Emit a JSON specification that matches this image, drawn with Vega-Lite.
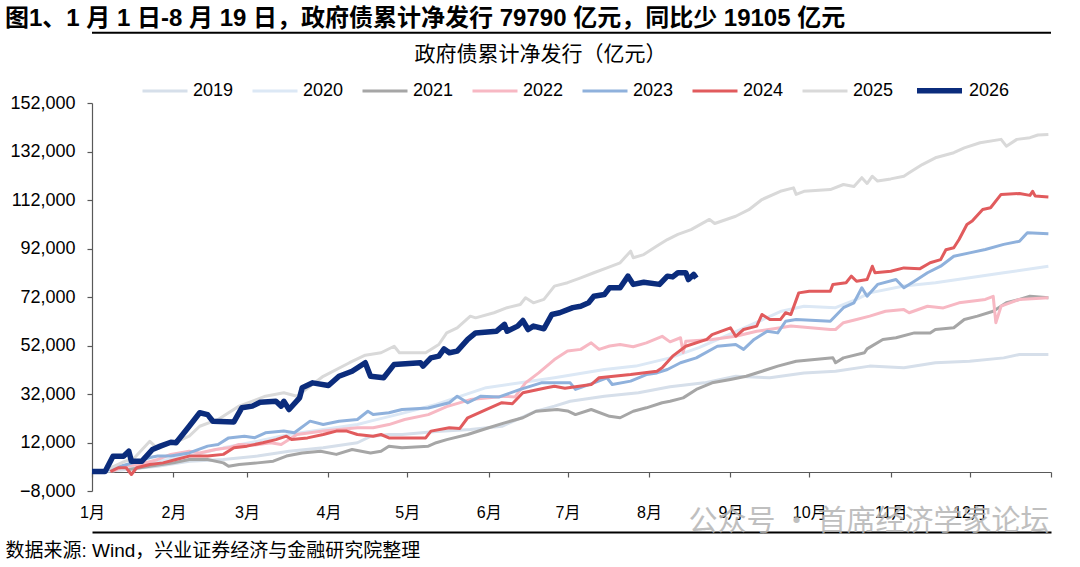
{
  "$schema": "https://vega.github.io/schema/vega-lite/v6.json",
  "width": 959,
  "height": 388,
  "autosize": {"type": "none"},
  "padding": {"left": 92, "top": 103, "right": 29, "bottom": 76},
  "background": "white",
  "config": {
    "font": "Liberation Sans, Noto Sans CJK SC",
    "view": {"stroke": null},
    "axis": {"grid": false, "labelColor": "#000", "domainColor": "#595959", "tickColor": "#595959", "domainWidth": 1.2, "tickWidth": 1.2},
    "legend": {
      "orient": "none", "legendX": 49, "legendY": -38, "direction": "horizontal",
      "symbolType": "stroke", "symbolSize": 2025, "symbolStrokeWidth": 4,
      "labelFontSize": 18, "labelColor": "#000", "labelOffset": 4,
      "columnPadding": 12, "padding": 0
    }
  },
  "title": {
    "text": "图1、1 月 1 日-8 月 19 日，政府债累计净发行 79790 亿元，同比少 19105 亿元",
    "anchor": "start", "frame": "group", "dx": -87, "dy": -1, "offset": 0,
    "fontSize": 24, "fontWeight": "bold", "color": "#000",
    "font": "Liberation Sans, Noto Sans CJK SC"
  },
  "resolve": {"axis": {"x": "independent"}},
  "data": {"values": [
    {"year":"2019","date":"2026-01-06","value":0},{"year":"2019","date":"2026-01-13","value":800},{"year":"2019","date":"2026-01-26","value":2200},{"year":"2019","date":"2026-02-07","value":4300},{"year":"2019","date":"2026-02-20","value":5000},{"year":"2019","date":"2026-03-05","value":6400},{"year":"2019","date":"2026-03-17","value":8400},{"year":"2019","date":"2026-03-30","value":9800},{"year":"2019","date":"2026-04-12","value":11900},{"year":"2019","date":"2026-04-17","value":14500},{"year":"2019","date":"2026-04-24","value":15300},{"year":"2019","date":"2026-04-29","value":15300},{"year":"2019","date":"2026-05-12","value":16500},{"year":"2019","date":"2026-05-25","value":17400},{"year":"2019","date":"2026-06-06","value":18700},{"year":"2019","date":"2026-06-19","value":24900},{"year":"2019","date":"2026-06-26","value":27000},{"year":"2019","date":"2026-07-02","value":29000},{"year":"2019","date":"2026-07-15","value":31100},{"year":"2019","date":"2026-07-28","value":32500},{"year":"2019","date":"2026-08-09","value":35000},{"year":"2019","date":"2026-08-22","value":36600},{"year":"2019","date":"2026-09-03","value":39300},{"year":"2019","date":"2026-09-16","value":38700},{"year":"2019","date":"2026-09-29","value":40700},{"year":"2019","date":"2026-10-11","value":41400},{"year":"2019","date":"2026-10-24","value":43500},{"year":"2019","date":"2026-11-06","value":42800},{"year":"2019","date":"2026-11-18","value":44900},{"year":"2019","date":"2026-12-01","value":45500},{"year":"2019","date":"2026-12-14","value":46900},{"year":"2019","date":"2026-12-20","value":48300},{"year":"2019","date":"2026-12-31","value":48300},
    {"year":"2020","date":"2026-01-05","value":0},{"year":"2020","date":"2026-01-13","value":1500},{"year":"2020","date":"2026-01-26","value":4300},{"year":"2020","date":"2026-02-07","value":6400},{"year":"2020","date":"2026-02-20","value":9800},{"year":"2020","date":"2026-03-05","value":12500},{"year":"2020","date":"2026-03-17","value":15300},{"year":"2020","date":"2026-03-30","value":17400},{"year":"2020","date":"2026-04-12","value":19400},{"year":"2020","date":"2026-04-17","value":20800},{"year":"2020","date":"2026-04-29","value":24000},{"year":"2020","date":"2026-05-12","value":27700},{"year":"2020","date":"2026-05-31","value":34600},{"year":"2020","date":"2026-06-13","value":36600},{"year":"2020","date":"2026-06-26","value":38700},{"year":"2020","date":"2026-07-15","value":42100},{"year":"2020","date":"2026-07-27","value":43500},{"year":"2020","date":"2026-08-09","value":46900},{"year":"2020","date":"2026-08-20","value":51100},{"year":"2020","date":"2026-09-05","value":58600},{"year":"2020","date":"2026-09-20","value":66000},{"year":"2020","date":"2026-09-29","value":68200},{"year":"2020","date":"2026-10-11","value":67600},{"year":"2020","date":"2026-10-19","value":71000},{"year":"2020","date":"2026-10-24","value":73700},{"year":"2020","date":"2026-11-06","value":76500},{"year":"2020","date":"2026-11-18","value":77900},{"year":"2020","date":"2026-12-01","value":79900},{"year":"2020","date":"2026-12-14","value":82000},{"year":"2020","date":"2026-12-31","value":84700},
    {"year":"2021","date":"2026-01-15","value":900},{"year":"2021","date":"2026-01-23","value":2200},{"year":"2021","date":"2026-02-01","value":3600},{"year":"2021","date":"2026-02-07","value":5000},{"year":"2021","date":"2026-02-14","value":5000},{"year":"2021","date":"2026-02-20","value":3600},{"year":"2021","date":"2026-02-22","value":2200},{"year":"2021","date":"2026-02-26","value":2900},{"year":"2021","date":"2026-03-05","value":3600},{"year":"2021","date":"2026-03-11","value":4300},{"year":"2021","date":"2026-03-16","value":6400},{"year":"2021","date":"2026-03-22","value":7700},{"year":"2021","date":"2026-03-29","value":8400},{"year":"2021","date":"2026-04-04","value":7100},{"year":"2021","date":"2026-04-10","value":9100},{"year":"2021","date":"2026-04-17","value":7700},{"year":"2021","date":"2026-04-21","value":8400},{"year":"2021","date":"2026-04-24","value":10500},{"year":"2021","date":"2026-04-29","value":9800},{"year":"2021","date":"2026-05-09","value":10500},{"year":"2021","date":"2026-05-12","value":11900},{"year":"2021","date":"2026-05-16","value":13200},{"year":"2021","date":"2026-05-24","value":15300},{"year":"2021","date":"2026-06-01","value":18100},{"year":"2021","date":"2026-06-07","value":20100},{"year":"2021","date":"2026-06-14","value":22200},{"year":"2021","date":"2026-06-19","value":24900},{"year":"2021","date":"2026-06-27","value":25600},{"year":"2021","date":"2026-07-01","value":25000},{"year":"2021","date":"2026-07-04","value":23500},{"year":"2021","date":"2026-07-10","value":25600},{"year":"2021","date":"2026-07-17","value":22800},{"year":"2021","date":"2026-07-21","value":22200},{"year":"2021","date":"2026-07-26","value":24900},{"year":"2021","date":"2026-07-31","value":26300},{"year":"2021","date":"2026-08-06","value":28400},{"year":"2021","date":"2026-08-09","value":29000},{"year":"2021","date":"2026-08-14","value":30400},{"year":"2021","date":"2026-08-19","value":33900},{"year":"2021","date":"2026-08-25","value":36600},{"year":"2021","date":"2026-09-01","value":38000},{"year":"2021","date":"2026-09-07","value":39300},{"year":"2021","date":"2026-09-13","value":41400},{"year":"2021","date":"2026-09-19","value":43500},{"year":"2021","date":"2026-09-26","value":45500},{"year":"2021","date":"2026-10-03","value":46200},{"year":"2021","date":"2026-10-10","value":46900},{"year":"2021","date":"2026-10-11","value":44900},{"year":"2021","date":"2026-10-14","value":46900},{"year":"2021","date":"2026-10-22","value":49000},{"year":"2021","date":"2026-10-23","value":50600},{"year":"2021","date":"2026-10-29","value":54500},{"year":"2021","date":"2026-11-03","value":55200},{"year":"2021","date":"2026-11-10","value":57200},{"year":"2021","date":"2026-11-16","value":57200},{"year":"2021","date":"2026-11-18","value":58600},{"year":"2021","date":"2026-11-25","value":59300},{"year":"2021","date":"2026-11-29","value":62700},{"year":"2021","date":"2026-12-04","value":64100},{"year":"2021","date":"2026-12-10","value":66100},{"year":"2021","date":"2026-12-15","value":69600},{"year":"2021","date":"2026-12-20","value":71000},{"year":"2021","date":"2026-12-24","value":72300},{"year":"2021","date":"2026-12-31","value":71700},
    {"year":"2022","date":"2026-01-09","value":200},{"year":"2022","date":"2026-01-13","value":2200},{"year":"2022","date":"2026-01-19","value":2900},{"year":"2022","date":"2026-01-26","value":5000},{"year":"2022","date":"2026-01-31","value":7100},{"year":"2022","date":"2026-02-07","value":8400},{"year":"2022","date":"2026-02-11","value":7700},{"year":"2022","date":"2026-02-17","value":9100},{"year":"2022","date":"2026-02-22","value":9800},{"year":"2022","date":"2026-02-26","value":11200},{"year":"2022","date":"2026-03-04","value":11000},{"year":"2022","date":"2026-03-10","value":11900},{"year":"2022","date":"2026-03-14","value":11200},{"year":"2022","date":"2026-03-20","value":15300},{"year":"2022","date":"2026-03-25","value":16000},{"year":"2022","date":"2026-03-30","value":16700},{"year":"2022","date":"2026-04-05","value":17400},{"year":"2022","date":"2026-04-12","value":18100},{"year":"2022","date":"2026-04-18","value":18100},{"year":"2022","date":"2026-04-24","value":19400},{"year":"2022","date":"2026-04-30","value":21500},{"year":"2022","date":"2026-05-09","value":23500},{"year":"2022","date":"2026-05-16","value":26800},{"year":"2022","date":"2026-05-25","value":29700},{"year":"2022","date":"2026-06-01","value":30500},{"year":"2022","date":"2026-06-07","value":31100},{"year":"2022","date":"2026-06-11","value":30800},{"year":"2022","date":"2026-06-15","value":36600},{"year":"2022","date":"2026-06-20","value":40700},{"year":"2022","date":"2026-06-26","value":46200},{"year":"2022","date":"2026-07-01","value":49700},{"year":"2022","date":"2026-07-06","value":50400},{"year":"2022","date":"2026-07-10","value":53100},{"year":"2022","date":"2026-07-13","value":50400},{"year":"2022","date":"2026-07-17","value":51800},{"year":"2022","date":"2026-07-21","value":52400},{"year":"2022","date":"2026-07-26","value":51500},{"year":"2022","date":"2026-07-31","value":53100},{"year":"2022","date":"2026-08-06","value":55800},{"year":"2022","date":"2026-08-09","value":53500},{"year":"2022","date":"2026-08-13","value":55200},{"year":"2022","date":"2026-08-14","value":49100},{"year":"2022","date":"2026-08-15","value":53800},{"year":"2022","date":"2026-08-25","value":54500},{"year":"2022","date":"2026-09-03","value":55800},{"year":"2022","date":"2026-09-11","value":57900},{"year":"2022","date":"2026-09-20","value":59300},{"year":"2022","date":"2026-09-24","value":60000},{"year":"2022","date":"2026-10-09","value":58600},{"year":"2022","date":"2026-10-11","value":58600},{"year":"2022","date":"2026-10-14","value":61400},{"year":"2022","date":"2026-10-19","value":62700},{"year":"2022","date":"2026-10-24","value":64100},{"year":"2022","date":"2026-10-30","value":66100},{"year":"2022","date":"2026-11-06","value":66800},{"year":"2022","date":"2026-11-08","value":65500},{"year":"2022","date":"2026-11-15","value":68200},{"year":"2022","date":"2026-11-21","value":67500},{"year":"2022","date":"2026-11-27","value":69600},{"year":"2022","date":"2026-12-07","value":71000},{"year":"2022","date":"2026-12-10","value":72300},{"year":"2022","date":"2026-12-11","value":61400},{"year":"2022","date":"2026-12-13","value":68200},{"year":"2022","date":"2026-12-20","value":71000},{"year":"2022","date":"2026-12-31","value":71700},
    {"year":"2023","date":"2026-01-04","value":0},{"year":"2023","date":"2026-01-11","value":2000},{"year":"2023","date":"2026-01-19","value":4300},{"year":"2023","date":"2026-01-23","value":5800},{"year":"2023","date":"2026-01-26","value":6400},{"year":"2023","date":"2026-01-31","value":6400},{"year":"2023","date":"2026-02-07","value":7700},{"year":"2023","date":"2026-02-14","value":10500},{"year":"2023","date":"2026-02-18","value":11200},{"year":"2023","date":"2026-02-22","value":13900},{"year":"2023","date":"2026-02-28","value":14600},{"year":"2023","date":"2026-03-04","value":14000},{"year":"2023","date":"2026-03-08","value":16000},{"year":"2023","date":"2026-03-15","value":16700},{"year":"2023","date":"2026-03-19","value":16000},{"year":"2023","date":"2026-03-25","value":20800},{"year":"2023","date":"2026-03-30","value":19400},{"year":"2023","date":"2026-04-05","value":20800},{"year":"2023","date":"2026-04-12","value":21500},{"year":"2023","date":"2026-04-16","value":24900},{"year":"2023","date":"2026-04-18","value":23500},{"year":"2023","date":"2026-04-24","value":24250},{"year":"2023","date":"2026-04-29","value":25600},{"year":"2023","date":"2026-05-09","value":26200},{"year":"2023","date":"2026-05-17","value":28400},{"year":"2023","date":"2026-05-20","value":31100},{"year":"2023","date":"2026-05-24","value":28400},{"year":"2023","date":"2026-05-29","value":31100},{"year":"2023","date":"2026-06-05","value":30800},{"year":"2023","date":"2026-06-13","value":33900},{"year":"2023","date":"2026-06-21","value":36600},{"year":"2023","date":"2026-07-02","value":36600},{"year":"2023","date":"2026-07-04","value":33900},{"year":"2023","date":"2026-07-11","value":36600},{"year":"2023","date":"2026-07-16","value":38700},{"year":"2023","date":"2026-07-18","value":35900},{"year":"2023","date":"2026-07-25","value":37300},{"year":"2023","date":"2026-07-31","value":40000},{"year":"2023","date":"2026-08-04","value":40700},{"year":"2023","date":"2026-08-08","value":42100},{"year":"2023","date":"2026-08-13","value":44900},{"year":"2023","date":"2026-08-19","value":46900},{"year":"2023","date":"2026-08-27","value":51700},{"year":"2023","date":"2026-09-03","value":52400},{"year":"2023","date":"2026-09-06","value":50400},{"year":"2023","date":"2026-09-10","value":54500},{"year":"2023","date":"2026-09-15","value":57900},{"year":"2023","date":"2026-09-19","value":57200},{"year":"2023","date":"2026-09-22","value":62000},{"year":"2023","date":"2026-09-26","value":62700},{"year":"2023","date":"2026-10-09","value":62000},{"year":"2023","date":"2026-10-14","value":67600},{"year":"2023","date":"2026-10-18","value":69600},{"year":"2023","date":"2026-10-21","value":75800},{"year":"2023","date":"2026-10-23","value":72300},{"year":"2023","date":"2026-10-27","value":77200},{"year":"2023","date":"2026-11-03","value":79200},{"year":"2023","date":"2026-11-06","value":75800},{"year":"2023","date":"2026-11-10","value":78500},{"year":"2023","date":"2026-11-15","value":82000},{"year":"2023","date":"2026-11-20","value":84700},{"year":"2023","date":"2026-11-25","value":88800},{"year":"2023","date":"2026-12-01","value":90200},{"year":"2023","date":"2026-12-07","value":91600},{"year":"2023","date":"2026-12-14","value":93700},{"year":"2023","date":"2026-12-20","value":95000},{"year":"2023","date":"2026-12-23","value":98500},{"year":"2023","date":"2026-12-31","value":98100},
    {"year":"2024","date":"2026-01-08","value":0},{"year":"2024","date":"2026-01-11","value":1600},{"year":"2024","date":"2026-01-14","value":1600},{"year":"2024","date":"2026-01-16","value":-1200},{"year":"2024","date":"2026-01-18","value":1600},{"year":"2024","date":"2026-01-23","value":2900},{"year":"2024","date":"2026-01-28","value":3600},{"year":"2024","date":"2026-02-02","value":5000},{"year":"2024","date":"2026-02-07","value":6400},{"year":"2024","date":"2026-02-14","value":6400},{"year":"2024","date":"2026-02-20","value":7100},{"year":"2024","date":"2026-02-24","value":9800},{"year":"2024","date":"2026-03-01","value":10500},{"year":"2024","date":"2026-03-07","value":11900},{"year":"2024","date":"2026-03-12","value":13200},{"year":"2024","date":"2026-03-16","value":14600},{"year":"2024","date":"2026-03-18","value":13200},{"year":"2024","date":"2026-03-24","value":13900},{"year":"2024","date":"2026-03-30","value":15300},{"year":"2024","date":"2026-04-04","value":16700},{"year":"2024","date":"2026-04-08","value":16700},{"year":"2024","date":"2026-04-12","value":15300},{"year":"2024","date":"2026-04-18","value":14600},{"year":"2024","date":"2026-04-21","value":15300},{"year":"2024","date":"2026-04-24","value":13900},{"year":"2024","date":"2026-05-08","value":13900},{"year":"2024","date":"2026-05-10","value":16700},{"year":"2024","date":"2026-05-17","value":18100},{"year":"2024","date":"2026-05-21","value":17800},{"year":"2024","date":"2026-05-24","value":22200},{"year":"2024","date":"2026-05-31","value":25600},{"year":"2024","date":"2026-06-06","value":28400},{"year":"2024","date":"2026-06-10","value":28000},{"year":"2024","date":"2026-06-14","value":32500},{"year":"2024","date":"2026-06-23","value":34600},{"year":"2024","date":"2026-06-26","value":35200},{"year":"2024","date":"2026-06-30","value":34400},{"year":"2024","date":"2026-07-10","value":35900},{"year":"2024","date":"2026-07-13","value":38700},{"year":"2024","date":"2026-07-25","value":40000},{"year":"2024","date":"2026-08-04","value":41400},{"year":"2024","date":"2026-08-06","value":42800},{"year":"2024","date":"2026-08-10","value":47600},{"year":"2024","date":"2026-08-15","value":51700},{"year":"2024","date":"2026-08-23","value":54500},{"year":"2024","date":"2026-08-25","value":56500},{"year":"2024","date":"2026-09-01","value":59300},{"year":"2024","date":"2026-09-03","value":55800},{"year":"2024","date":"2026-09-06","value":58600},{"year":"2024","date":"2026-09-11","value":60000},{"year":"2024","date":"2026-09-13","value":64800},{"year":"2024","date":"2026-09-16","value":62700},{"year":"2024","date":"2026-09-20","value":62700},{"year":"2024","date":"2026-09-22","value":65500},{"year":"2024","date":"2026-09-24","value":64800},{"year":"2024","date":"2026-09-27","value":73700},{"year":"2024","date":"2026-10-01","value":74400},{"year":"2024","date":"2026-10-09","value":74400},{"year":"2024","date":"2026-10-10","value":77200},{"year":"2024","date":"2026-10-15","value":77900},{"year":"2024","date":"2026-10-17","value":80600},{"year":"2024","date":"2026-10-19","value":78500},{"year":"2024","date":"2026-10-23","value":79200},{"year":"2024","date":"2026-10-25","value":84700},{"year":"2024","date":"2026-10-26","value":82000},{"year":"2024","date":"2026-11-01","value":82600},{"year":"2024","date":"2026-11-06","value":84000},{"year":"2024","date":"2026-11-12","value":83600},{"year":"2024","date":"2026-11-16","value":86100},{"year":"2024","date":"2026-11-20","value":87400},{"year":"2024","date":"2026-11-22","value":91500},{"year":"2024","date":"2026-11-25","value":92300},{"year":"2024","date":"2026-11-27","value":95700},{"year":"2024","date":"2026-11-30","value":101900},{"year":"2024","date":"2026-12-02","value":103300},{"year":"2024","date":"2026-12-06","value":108100},{"year":"2024","date":"2026-12-09","value":108800},{"year":"2024","date":"2026-12-13","value":114300},{"year":"2024","date":"2026-12-20","value":114700},{"year":"2024","date":"2026-12-24","value":113900},{"year":"2024","date":"2026-12-25","value":115600},{"year":"2024","date":"2026-12-26","value":113600},{"year":"2024","date":"2026-12-31","value":113200},
    {"year":"2025","date":"2026-01-01","value":0},{"year":"2025","date":"2026-01-06","value":500},{"year":"2025","date":"2026-01-13","value":4000},{"year":"2025","date":"2026-01-17","value":5500},{"year":"2025","date":"2026-01-23","value":12500},{"year":"2025","date":"2026-01-26","value":9500},{"year":"2025","date":"2026-01-31","value":12000},{"year":"2025","date":"2026-02-04","value":13200},{"year":"2025","date":"2026-02-07","value":14600},{"year":"2025","date":"2026-02-11","value":18700},{"year":"2025","date":"2026-02-18","value":21500},{"year":"2025","date":"2026-02-22","value":24250},{"year":"2025","date":"2026-02-26","value":27000},{"year":"2025","date":"2026-03-08","value":31100},{"year":"2025","date":"2026-03-15","value":32500},{"year":"2025","date":"2026-03-20","value":31100},{"year":"2025","date":"2026-03-25","value":35200},{"year":"2025","date":"2026-03-30","value":39300},{"year":"2025","date":"2026-04-09","value":44900},{"year":"2025","date":"2026-04-15","value":48000},{"year":"2025","date":"2026-04-21","value":49000},{"year":"2025","date":"2026-04-26","value":51700},{"year":"2025","date":"2026-04-28","value":49000},{"year":"2025","date":"2026-05-08","value":49000},{"year":"2025","date":"2026-05-13","value":52400},{"year":"2025","date":"2026-05-16","value":57200},{"year":"2025","date":"2026-05-20","value":59300},{"year":"2025","date":"2026-05-25","value":64100},{"year":"2025","date":"2026-05-27","value":63400},{"year":"2025","date":"2026-06-03","value":65500},{"year":"2025","date":"2026-06-08","value":67600},{"year":"2025","date":"2026-06-13","value":68900},{"year":"2025","date":"2026-06-15","value":71700},{"year":"2025","date":"2026-06-18","value":69600},{"year":"2025","date":"2026-06-22","value":71000},{"year":"2025","date":"2026-06-26","value":76500},{"year":"2025","date":"2026-07-01","value":77900},{"year":"2025","date":"2026-07-06","value":79900},{"year":"2025","date":"2026-07-11","value":82000},{"year":"2025","date":"2026-07-16","value":84000},{"year":"2025","date":"2026-07-21","value":86100},{"year":"2025","date":"2026-07-25","value":90900},{"year":"2025","date":"2026-07-26","value":88200},{"year":"2025","date":"2026-07-30","value":89500},{"year":"2025","date":"2026-08-04","value":93000},{"year":"2025","date":"2026-08-08","value":95700},{"year":"2025","date":"2026-08-12","value":97800},{"year":"2025","date":"2026-08-17","value":99800},{"year":"2025","date":"2026-08-24","value":104000},{"year":"2025","date":"2026-08-26","value":102300},{"year":"2025","date":"2026-09-03","value":105300},{"year":"2025","date":"2026-09-08","value":108000},{"year":"2025","date":"2026-09-13","value":112200},{"year":"2025","date":"2026-09-20","value":115600},{"year":"2025","date":"2026-09-25","value":117000},{"year":"2025","date":"2026-09-26","value":114300},{"year":"2025","date":"2026-09-29","value":115600},{"year":"2025","date":"2026-10-09","value":116300},{"year":"2025","date":"2026-10-14","value":118400},{"year":"2025","date":"2026-10-18","value":117600},{"year":"2025","date":"2026-10-21","value":121200},{"year":"2025","date":"2026-10-23","value":118800},{"year":"2025","date":"2026-10-25","value":121800},{"year":"2025","date":"2026-10-27","value":119800},{"year":"2025","date":"2026-11-01","value":120700},{"year":"2025","date":"2026-11-06","value":121800},{"year":"2025","date":"2026-11-08","value":123200},{"year":"2025","date":"2026-11-13","value":126600},{"year":"2025","date":"2026-11-18","value":129400},{"year":"2025","date":"2026-11-25","value":131500},{"year":"2025","date":"2026-11-29","value":133500},{"year":"2025","date":"2026-12-05","value":135600},{"year":"2025","date":"2026-12-13","value":137000},{"year":"2025","date":"2026-12-15","value":134200},{"year":"2025","date":"2026-12-19","value":137000},{"year":"2025","date":"2026-12-24","value":137700},{"year":"2025","date":"2026-12-27","value":138800},{"year":"2025","date":"2026-12-31","value":139000},
    {"year":"2026","date":"2026-01-01","value":0},{"year":"2026","date":"2026-01-06","value":0},{"year":"2026","date":"2026-01-09","value":6350},{"year":"2026","date":"2026-01-13","value":6350},{"year":"2026","date":"2026-01-15","value":8400},{"year":"2026","date":"2026-01-16","value":4300},{"year":"2026","date":"2026-01-20","value":4300},{"year":"2026","date":"2026-01-24","value":9100},{"year":"2026","date":"2026-01-27","value":10500},{"year":"2026","date":"2026-01-31","value":12100},{"year":"2026","date":"2026-02-02","value":11900},{"year":"2026","date":"2026-02-07","value":18700},{"year":"2026","date":"2026-02-11","value":24250},{"year":"2026","date":"2026-02-14","value":23500},{"year":"2026","date":"2026-02-16","value":20800},{"year":"2026","date":"2026-02-24","value":20500},{"year":"2026","date":"2026-02-27","value":26300},{"year":"2026","date":"2026-03-03","value":27000},{"year":"2026","date":"2026-03-06","value":28600},{"year":"2026","date":"2026-03-12","value":29000},{"year":"2026","date":"2026-03-14","value":27000},{"year":"2026","date":"2026-03-15","value":29000},{"year":"2026","date":"2026-03-17","value":25600},{"year":"2026","date":"2026-03-21","value":30400},{"year":"2026","date":"2026-03-22","value":34600},{"year":"2026","date":"2026-03-26","value":36600},{"year":"2026","date":"2026-04-01","value":35500},{"year":"2026","date":"2026-04-05","value":39300},{"year":"2026","date":"2026-04-10","value":41400},{"year":"2026","date":"2026-04-15","value":44900},{"year":"2026","date":"2026-04-17","value":39300},{"year":"2026","date":"2026-04-22","value":38700},{"year":"2026","date":"2026-04-26","value":44200},{"year":"2026","date":"2026-05-06","value":44900},{"year":"2026","date":"2026-05-07","value":43500},{"year":"2026","date":"2026-05-10","value":46900},{"year":"2026","date":"2026-05-13","value":47600},{"year":"2026","date":"2026-05-15","value":50600},{"year":"2026","date":"2026-05-17","value":49000},{"year":"2026","date":"2026-05-20","value":49700},{"year":"2026","date":"2026-05-24","value":54500},{"year":"2026","date":"2026-05-27","value":57200},{"year":"2026","date":"2026-06-04","value":57900},{"year":"2026","date":"2026-06-07","value":60700},{"year":"2026","date":"2026-06-08","value":57900},{"year":"2026","date":"2026-06-12","value":60000},{"year":"2026","date":"2026-06-14","value":62300},{"year":"2026","date":"2026-06-16","value":58600},{"year":"2026","date":"2026-06-18","value":60000},{"year":"2026","date":"2026-06-22","value":58900},{"year":"2026","date":"2026-06-25","value":64800},{"year":"2026","date":"2026-06-28","value":65500},{"year":"2026","date":"2026-07-03","value":67600},{"year":"2026","date":"2026-07-06","value":68200},{"year":"2026","date":"2026-07-09","value":69600},{"year":"2026","date":"2026-07-11","value":72300},{"year":"2026","date":"2026-07-15","value":73000},{"year":"2026","date":"2026-07-17","value":75800},{"year":"2026","date":"2026-07-21","value":75800},{"year":"2026","date":"2026-07-24","value":80600},{"year":"2026","date":"2026-07-26","value":77200},{"year":"2026","date":"2026-07-30","value":78100},{"year":"2026","date":"2026-08-05","value":77200},{"year":"2026","date":"2026-08-08","value":80600},{"year":"2026","date":"2026-08-10","value":80300},{"year":"2026","date":"2026-08-12","value":82000},{"year":"2026","date":"2026-08-15","value":82000},{"year":"2026","date":"2026-08-16","value":79200},{"year":"2026","date":"2026-08-18","value":81300},{"year":"2026","date":"2026-08-19","value":79790}
  ]},
  "layer": [
    {
      "mark": {"type": "line", "strokeJoin": "round"},
      "encoding": {
        "x": {
          "field": "date", "type": "temporal",
          "scale": {"type": "utc", "domain": [{"year": 2026, "month": 1, "date": 1, "utc": true}, {"year": 2027, "month": 1, "date": 1, "utc": true}]},
          "axis": {
            "title": "数据来源: Wind，兴业证券经济与金融研究院整理",
            "titleX": -87, "titleY": 78, "titleAlign": "left", "titleBaseline": "middle",
            "titleFontSize": 19, "titleFontWeight": "normal", "titleColor": "#000",
            "offset": -19, "tickCount": {"interval": "month", "step": 1},
            "labelExpr": "utcyear(datum.value) > 2026 ? '' : utcFormat(datum.value, '%-m') + '月'",
            "labelFontSize": 16, "labelPadding": 27, "tickSize": 5, "labelFlush": false, "labelOverlap": false
          }
        },
        "y": {
          "field": "value", "type": "quantitative",
          "scale": {"domain": [-8000, 152000], "nice": false, "zero": false},
          "axis": {
            "title": "政府债累计净发行（亿元）",
            "titleAngle": 0, "titleX": 448, "titleY": -49, "titleAlign": "center", "titleBaseline": "middle",
            "titleFontSize": 21, "titleFontWeight": "normal", "titleColor": "#000",
            "values": [-8000, 12000, 32000, 52000, 72000, 92000, 112000, 132000, 152000],
            "labelExpr": "format(datum.value, ',.0f')", "labelFontSize": 18, "labelPadding": 12, "tickSize": 5
          }
        },
        "color": {
          "field": "year", "type": "nominal", "title": null,
          "scale": {
            "domain": ["2019", "2020", "2021", "2022", "2023", "2024", "2025", "2026"],
            "range": ["#d6dfea", "#dce8f5", "#a6a6a6", "#f7b8c3", "#8fb1dc", "#e15b5d", "#d9d9d9", "#0b2c7c"]
          }
        },
        "strokeWidth": {
          "field": "year", "type": "nominal", "title": null,
          "scale": {
            "type": "ordinal",
            "domain": ["2019", "2020", "2021", "2022", "2023", "2024", "2025", "2026"],
            "range": [3, 3, 3, 3, 3, 3, 3, 5.5]
          }
        }
      }
    },
    {
      "data": {"values": [{}]},
      "mark": {"type": "rule", "clip": false, "color": "#000", "strokeWidth": 2},
      "encoding": {
        "y": {"datum": 180960, "type": "quantitative"}
      }
    },
    {
      "transform": [{"filter": "datum.year == '2026' && datum.value == 79790"}],
      "mark": {"type": "point", "opacity": 0},
      "encoding": {
        "x": {
          "field": "date", "type": "temporal",
          "axis": {
            "orient": "bottom", "offset": 41, "domain": true, "domainColor": "#000", "domainWidth": 2,
            "ticks": false, "labels": false, "title": null, "grid": false
          }
        }
      }
    },
    {
      "data": {"values": [{"note": "公众号 · 首席经济学家论坛"}]},
      "mark": {"type": "text", "clip": false, "align": "left", "baseline": "middle", "fontSize": 29, "color": "#b5b5b5", "opacity": 0.85, "font": "Noto Sans CJK SC"},
      "encoding": {
        "text": {"field": "note"},
        "x": {"datum": {"year": 2026, "month": 8, "date": 16, "utc": true}, "type": "temporal", "axis": null},
        "y": {"datum": -20600, "type": "quantitative"}
      }
    }
  ]
}
